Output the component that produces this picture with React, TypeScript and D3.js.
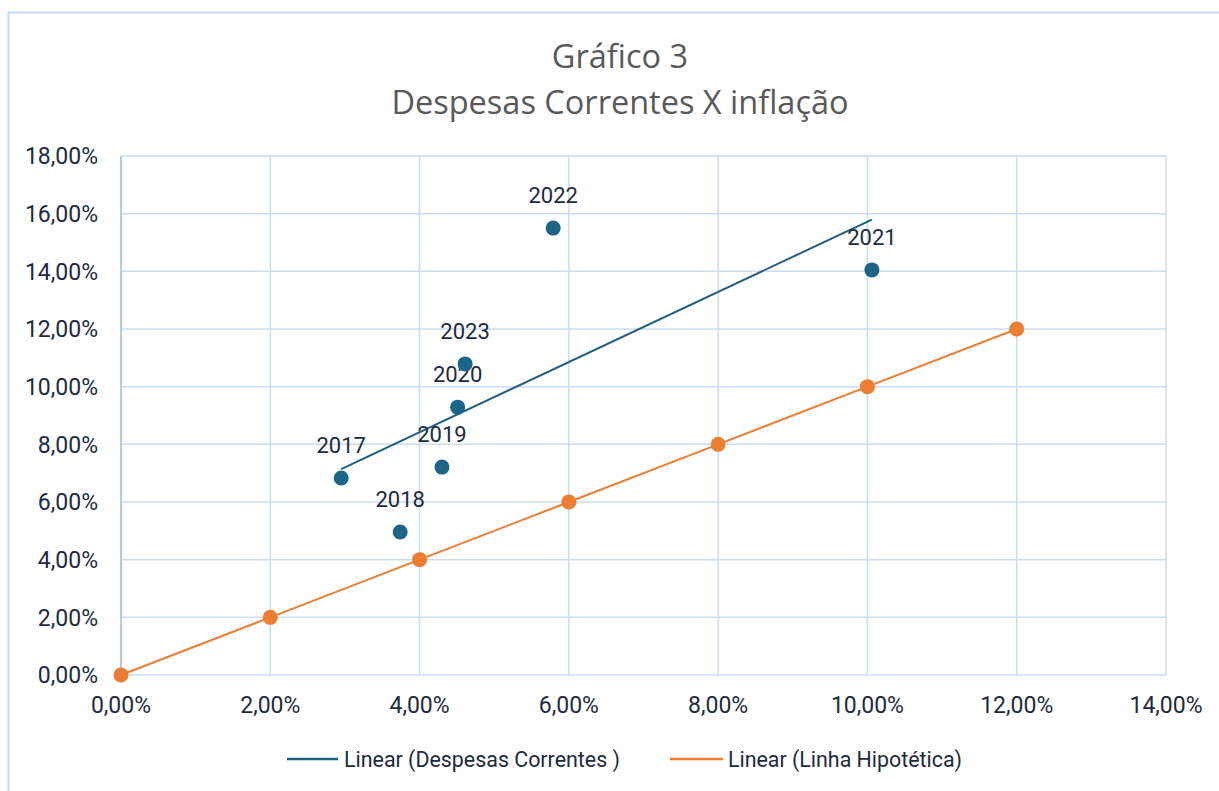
import * as d3 from 'd3';

const years = ['2017', '2018', '2019', '2020', '2023', '2022', '2021'];
const inflacao = [2.95, 3.74, 4.30, 4.51, 4.61, 5.79, 10.06];
const despesas = [6.83, 4.96, 7.21, 9.29, 10.79, 15.50, 14.05];

const hipoteticaX = [0, 2, 4, 6, 8, 10, 12];
const hipoteticaY = [0, 2, 4, 6, 8, 10, 12];

const xTicks = [0, 2, 4, 6, 8, 10, 12, 14];
const yTicks = [0, 2, 4, 6, 8, 10, 12, 14, 16, 18];

const W = 1219;
const H = 791;
const margin = { top: 156, right: 53, bottom: 116, left: 121 };

const fmt = (v: number) => v.toFixed(2).replace('.', ',') + '%';
const FONT = 'Roboto, "Liberation Sans", sans-serif';
const TITLE_FONT = '"Open Sans", Roboto, sans-serif';
const TEXT = '#1d2b3f';
const BLUE = '#1b6589';
const ORANGE = '#ed7d31';

function regression(xs: number[], ys: number[]) {
  const mx = d3.mean(xs) ?? 0;
  const my = d3.mean(ys) ?? 0;
  let sxy = 0;
  let sxx = 0;
  xs.forEach((x, i) => {
    sxy += (x - mx) * (ys[i] - my);
    sxx += (x - mx) * (x - mx);
  });
  const slope = sxy / sxx;
  return (x: number) => my + slope * (x - mx);
}

export default function App() {
  const x = d3.scaleLinear().domain([0, 14]).range([margin.left, W - margin.right]);
  const y = d3.scaleLinear().domain([0, 18]).range([H - margin.bottom, margin.top]);

  const fit = regression(inflacao, despesas);
  const x0 = d3.min(inflacao) ?? 0;
  const x1 = d3.max(inflacao) ?? 0;

  const line = d3.line<[number, number]>()
    .x(d => x(d[0]))
    .y(d => y(d[1]));

  const hipPts: [number, number][] = hipoteticaX.map((v, i) => [v, hipoteticaY[i]]);

  return (
    <div style={{ position: 'fixed', left: 0, top: 0 }}>
      <svg width={W} height={H} style={{ display: 'block', background: '#fff' }} fontFamily={FONT}>
        <rect x={8.5} y={12.5} width={W + 10} height={H + 10} fill="none" stroke="#c5daf0" strokeWidth={2} />

        <text x={620} y={68} textAnchor="middle" fontSize={32.5} fontFamily={TITLE_FONT} fill="#595959">Gráfico 3</text>
        <text x={620} y={114} textAnchor="middle" fontSize={32.5} fontFamily={TITLE_FONT} fill="#595959">Despesas Correntes X inflação</text>

        {/* grid */}
        {yTicks.map(t => (
          <line key={'gy' + t} x1={margin.left} x2={W - margin.right} y1={y(t)} y2={y(t)} stroke="#cadcf1" strokeWidth={1.5} />
        ))}
        {xTicks.map(t => (
          <line key={'gx' + t} x1={x(t)} x2={x(t)} y1={margin.top} y2={H - margin.bottom} stroke="#cadcf1" strokeWidth={1.5} />
        ))}
        <line x1={x(0)} x2={x(0)} y1={margin.top} y2={H - margin.bottom} stroke="#9fc3e8" strokeWidth={1.5} />

        {/* tick labels */}
        {yTicks.map(t => (
          <text key={'ty' + t} x={98} y={y(t)} dy="0.36em" textAnchor="end" fontSize={23} fill={TEXT}>{fmt(t)}</text>
        ))}
        {xTicks.map(t => (
          <text key={'tx' + t} x={x(t)} y={713} textAnchor="middle" fontSize={23} fill={TEXT}>{fmt(t)}</text>
        ))}

        {/* hypothetical line */}
        <path d={line(hipPts) ?? ''} fill="none" stroke={ORANGE} strokeWidth={2} />
        {hipPts.map((d, i) => (
          <circle key={'h' + i} cx={x(d[0])} cy={y(d[1])} r={7.5} fill={ORANGE} />
        ))}

        {/* trendline */}
        <path d={line([[x0, fit(x0)], [x1, fit(x1)]]) ?? ''} fill="none" stroke="#1f5f80" strokeWidth={2} />

        {/* scatter */}
        {inflacao.map((v, i) => (
          <g key={'p' + i}>
            <circle cx={x(v)} cy={y(despesas[i])} r={7.5} fill={BLUE} />
            <text x={x(v)} y={y(despesas[i]) - 25} textAnchor="middle" fontSize={22} fill={TEXT}>{years[i]}</text>
          </g>
        ))}

        {/* legend */}
        <line x1={287} x2={338} y1={759} y2={759} stroke="#1f5f80" strokeWidth={2.5} />
        <text x={344} y={759} dy="0.36em" fontSize={22.5} fill={TEXT} textLength={276} lengthAdjust="spacingAndGlyphs">Linear (Despesas Correntes )</text>
        <line x1={670} x2={723} y1={759} y2={759} stroke={ORANGE} strokeWidth={2.5} />
        <text x={728} y={759} dy="0.36em" fontSize={22.5} fill={TEXT} textLength={234} lengthAdjust="spacingAndGlyphs">Linear (Linha Hipotética)</text>
      </svg>
    </div>
  );
}
